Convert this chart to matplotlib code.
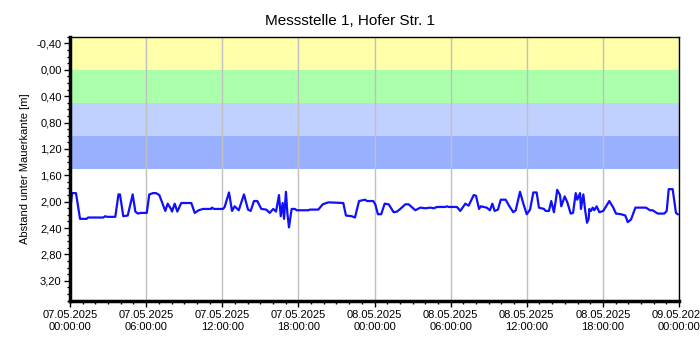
import numpy as np
import pandas as pd
import matplotlib
matplotlib.use("Agg")
import matplotlib.pyplot as plt
import matplotlib.dates as mdates
from matplotlib.ticker import FixedLocator, MultipleLocator, FuncFormatter

plt.rcParams["font.family"] = ["Liberation Sans", "DejaVu Sans"]

title = "Messstelle 1, Hofer Str. 1"
ylabel = "Abstand unter Mauerkante [m]"
start = pd.Timestamp("2025-05-07 00:00:00")

# hours since start and water depth below the wall edge [m]
hours = [0.00, 0.16, 0.47, 0.79, 1.32, 1.42, 2.62, 2.78, 2.92, 3.57, 3.82, 3.94,
         4.20, 4.55, 4.94, 5.15, 5.34, 5.60, 6.05, 6.25, 6.54, 6.78, 7.04, 7.51,
         7.70, 7.96, 8.04, 8.25, 8.46, 8.77, 9.56, 9.83, 10.14, 10.48, 11.11, 11.19,
         11.35, 12.06, 12.19, 12.53, 12.77, 12.98, 13.30, 13.71, 14.03, 14.24, 14.50,
         14.76, 15.08, 15.47, 15.74, 16.02, 16.24, 16.47, 16.61, 16.76, 16.87, 17.02,
         17.13, 17.26, 17.40, 17.47, 17.73, 17.87, 18.78, 18.92, 19.57, 19.92, 20.36,
         21.54, 21.75, 22.20, 22.46, 22.78, 23.25, 23.41, 23.90, 24.06, 24.27, 24.53,
         24.80, 25.12, 25.51, 25.77, 26.03, 26.43, 26.69, 27.22, 27.61, 28.00, 28.40,
         28.66, 28.93, 29.58, 29.72, 29.85, 30.50, 30.76, 31.16, 31.42, 31.82, 32.00,
         32.24, 32.37, 32.84, 33.10, 33.29, 33.47, 33.73, 33.95, 34.34, 34.60, 34.94,
         35.13, 35.47, 35.73, 36.00, 36.26, 36.52, 36.78, 36.96, 37.36, 37.49, 37.75,
         37.93, 38.14, 38.28, 38.40, 38.62, 38.72, 38.99, 39.20, 39.46, 39.65, 39.86,
         39.98, 40.20, 40.27, 40.46, 40.61, 40.75, 40.88, 40.93, 41.06, 41.20, 41.32,
         41.51, 41.72, 42.03, 42.51, 42.82, 43.03, 43.43, 43.77, 43.96, 44.22, 44.56,
         45.40, 45.71, 45.92, 46.32, 46.84, 47.03, 47.19, 47.50, 47.76, 47.90]
depth = [2.17, 1.87, 1.87, 2.26, 2.26, 2.24, 2.24, 2.22, 2.23, 2.23, 1.89, 1.89,
         2.22, 2.21, 1.89, 2.15, 2.18, 2.17, 2.17, 1.89, 1.87, 1.87, 1.90, 2.14,
         2.03, 2.11, 2.15, 2.03, 2.15, 2.02, 2.02, 2.17, 2.13, 2.11, 2.11, 2.09,
         2.11, 2.11, 2.08, 1.86, 2.14, 2.07, 2.13, 1.89, 2.12, 2.14, 1.99,
         1.99, 2.11, 2.12, 2.17, 2.11, 2.15, 1.90, 2.22, 2.02, 2.26, 1.85,
         2.17, 2.39, 2.21, 2.11, 2.11, 2.13, 2.13, 2.12, 2.12, 2.04, 2.01,
         2.02, 2.21, 2.22, 2.24, 1.99, 1.97, 1.99, 1.99, 2.04, 2.19, 2.19,
         2.03, 2.04, 2.16, 2.15, 2.11, 2.04, 2.04, 2.13, 2.09, 2.10, 2.09,
         2.10, 2.08, 2.08, 2.07, 2.08, 2.08, 2.14, 2.03, 2.06, 1.90, 1.91,
         2.11, 2.07, 2.09, 2.13, 2.03, 2.14, 2.12, 1.97, 1.97, 2.06, 2.16,
         2.13, 1.85, 2.03, 2.19, 2.12, 1.86, 1.86, 2.09, 2.11, 2.14, 2.14,
         1.99, 2.16, 1.99, 1.82, 1.90, 2.07, 1.92, 2.01, 2.18, 2.17, 1.87,
         1.97, 1.87, 2.11, 1.89, 2.14, 2.32, 2.26, 2.11, 2.14, 2.09, 2.13,
         2.07, 2.16, 2.14, 1.99, 2.09, 2.18, 2.19, 2.21, 2.31, 2.27, 2.09,
         2.09, 2.13, 2.13, 2.18, 2.18, 2.14, 1.81, 1.81, 2.17, 2.19]

# warning bands (depth ranges) and their fill colours
band_edges = [-0.5, 0.0, 0.5, 1.0, 1.5]
band_colors = ["#ffffaa", "#aaffaa", "#c0d0ff", "#98b0ff"]

yticks = [-0.4, 0.0, 0.4, 0.8, 1.2, 1.6, 2.0, 2.4, 2.8, 3.2]

times = [start + pd.Timedelta(hours=h) for h in hours]
t0 = start
t1 = start + pd.Timedelta(hours=48)

fig = plt.figure(figsize=(7, 3.5), dpi=100)
ax = fig.add_axes([0.1, 0.141, 0.87, 0.754])

for lo, hi, c in zip(band_edges[:-1], band_edges[1:], band_colors):
    ax.axhspan(lo, hi, color=c, lw=0, zorder=0)

ax.plot(times, depth, color="#1010ff", lw=1.6, zorder=3)

ax.set_xlim(t0, t1)
ax.set_ylim(3.5, -0.5)

ax.xaxis.set_major_locator(mdates.HourLocator(byhour=[0, 6, 12, 18]))
ax.xaxis.set_minor_locator(mdates.HourLocator())
ax.xaxis.set_major_formatter(mdates.DateFormatter("%d.%m.%Y\n%H:%M:%S"))
ax.yaxis.set_major_locator(FixedLocator(yticks))
ax.yaxis.set_minor_locator(MultipleLocator(0.1))
ax.yaxis.set_major_formatter(FuncFormatter(lambda v, p: f"{v:.2f}".replace(".", ",").replace("-0,00", "0,00")))

ax.grid(axis="x", which="major", color="#c0c0c0", lw=1, zorder=1)
ax.set_axisbelow(False)

ax.tick_params(axis="both", which="major", length=4, width=1, labelsize=8, color="black")
ax.tick_params(axis="both", which="minor", length=2, width=1, color="black")
ax.tick_params(axis="x", pad=3)
ax.tick_params(axis="y", pad=2)

for s in ["left", "bottom"]:
    ax.spines[s].set_linewidth(2.5)
for s in ["top", "right"]:
    ax.spines[s].set_linewidth(1)
for s in ax.spines.values():
    s.set_zorder(5)

fig.text(0.5, 1 - 21 / 350, title, fontsize=11, ha="center", va="center")
ax.set_ylabel(ylabel, fontsize=8, labelpad=5)

fig.savefig("out.png", dpi=100)
